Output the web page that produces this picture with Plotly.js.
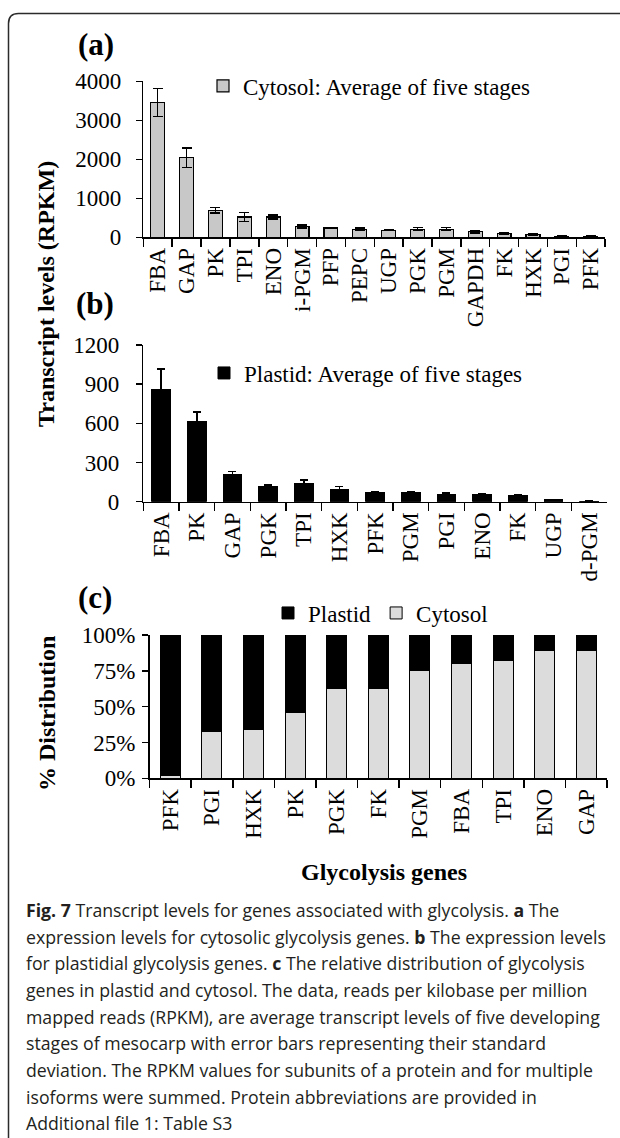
<!DOCTYPE html>
<html><head><meta charset="utf-8">
<script src="https://cdn.plot.ly/plotly-3.0.1.min.js"></script>
<style>html,body{margin:0;padding:0;background:#fff}#chart{width:620px;height:1138px}</style>
</head><body><div id="chart"></div>
<script>
// ---- data (a) cytosol ----
const cytoGenes = ['FBA','GAP','PK','TPI','ENO','i-PGM','PFP','PEPC','UGP','PGK','PGM','GAPDH','FK','HXK','PGI','PFK'];
const cytoMean  = [3460, 2040, 690, 520, 520, 280, 240, 210, 180, 210, 210, 140, 100, 70, 30, 30];
const cytoSD    = [360, 255, 70, 110, 55, 40, 15, 30, 5, 40, 40, 35, 15, 15, 8, 8];
// ---- data (b) plastid ----
const plastGenes = ['FBA','PK','GAP','PGK','TPI','HXK','PFK','PGM','PGI','ENO','FK','UGP','d-PGM'];
const plastMean  = [860, 612, 212, 120, 138, 97, 69, 68, 58, 55, 46, 15, 4];
const plastSD    = [155, 75, 18, 6, 30, 20, 8, 10, 8, 3, 10, 3, 1];
// ---- data (c) % distribution ----
const distGenes   = ['PFK','PGI','HXK','PK','PGK','FK','PGM','FBA','TPI','ENO','GAP'];
const distCytosol = [2, 32.5, 34, 46, 63, 63, 75, 80, 82, 89.5, 89.5];
const distPlastid = [98, 67.5, 66, 54, 37, 37, 25, 20, 18, 10.5, 10.5];
const pctTicks      = [0, 25, 50, 75, 100];
const pctTickLabels = ['0%', '25%', '50%', '75%', '100%'];
// ---- text ----
const captionLines = [
  '<b>Fig. 7</b> Transcript levels for genes associated with glycolysis. <b>a</b> The',
  'expression levels for cytosolic glycolysis genes. <b>b</b> The expression levels',
  'for plastidial glycolysis genes. <b>c</b> The relative distribution of glycolysis',
  'genes in plastid and cytosol. The data, reads per kilobase per million',
  'mapped reads (RPKM), are average transcript levels of five developing',
  'stages of mesocarp with error bars representing their standard',
  'deviation. The RPKM values for subunits of a protein and for multiple',
  'isoforms were summed. Protein abbreviations are provided in',
  'Additional file 1: Table S3'
];

const W = 620, H = 1138;
const fx = p => p / W, fy = p => 1 - p / H;
const SERIF = 'Liberation Serif, "Times New Roman", serif';
const SANS = '"Open Sans", "Noto Sans", sans-serif';

function xa(x0, x1, anchor) {
  return {domain:[fx(x0), fx(x1)], anchor, type:'category', showline:true, linecolor:'#000', linewidth:1.5,
    ticks:'outside', tickson:'boundaries', ticklen:8, tickwidth:1.5, tickcolor:'#000', tickangle:-90,
    tickfont:{family:SERIF, size:23, color:'#000'}, showgrid:false, zeroline:false, automargin:false, fixedrange:true};
}
function ya(top, bottom, anchor, range, dtick, standoff) {
  return {domain:[fy(bottom), fy(top)], anchor, range, dtick, tick0:0, showline:true, linecolor:'#000', linewidth:1.5,
    ticks:'outside', ticklen:6, tickwidth:1.5, tickcolor:'#000', tickfont:{family:SERIF, size:23, color:'#000'},
    showgrid:false, zeroline:false, automargin:false, fixedrange:true, ticklabelstandoff:standoff};
}

const traces = [
  {type:'bar', x:cytoGenes, y:cytoMean, xaxis:'x', yaxis:'y', legend:'legend', name:'Cytosol: Average of five stages',
   width:0.48, marker:{color:'#c8c8c8', line:{color:'#000', width:1.2}},
   error_y:{type:'data', array:cytoSD, visible:true, color:'#000', thickness:1.5, width:5}},
  {type:'bar', x:plastGenes, y:plastMean, xaxis:'x2', yaxis:'y2', legend:'legend2', name:'Plastid: Average of five stages',
   width:0.53, marker:{color:'#000', line:{color:'#000', width:1}},
   error_y:{type:'data', array:plastSD, visible:true, color:'#000', thickness:1.5, width:4}},
  {type:'bar', x:distGenes, y:distCytosol, xaxis:'x3', yaxis:'y3', legend:'legend3', name:'Cytosol',
   width:0.48, marker:{color:'#dcdcdc', line:{color:'#000', width:1}}},
  {type:'bar', x:distGenes, y:distPlastid, xaxis:'x3', yaxis:'y3', legend:'legend3', name:'Plastid',
   width:0.48, marker:{color:'#000', line:{color:'#000', width:1}}}
];

const legendFont = {family:SERIF, size:23, color:'#000'};
const ann = (text, x, y, opts) => Object.assign({text, x:fx(x), y:fy(y), xref:'paper', yref:'paper', showarrow:false,
  xanchor:'center', yanchor:'middle', font:{family:SERIF, size:23, color:'#000'}}, opts || {});

const annotations = [
  ann('<b>(a)</b>', 96, 45, {font:{family:SERIF, size:31, color:'#000'}}),
  ann('<b>(b)</b>', 95, 303, {font:{family:SERIF, size:31, color:'#000'}}),
  ann('<b>(c)</b>', 95, 597, {font:{family:SERIF, size:31, color:'#000'}}),
  ann('<b>Transcript levels (RPKM)</b>', 46, 294, {textangle:-90, font:{family:SERIF, size:24, color:'#000'}}),
  ann('<b>% Distribution</b>', 47, 714, {textangle:-90, font:{family:SERIF, size:24, color:'#000'}}),
  ann('<b>Glycolysis genes</b>', 384, 872, {font:{family:SERIF, size:24, color:'#000'}})
];
captionLines.forEach((t, i) => {
  annotations.push(ann(t, 24, 910 + i * 26.67, {xanchor:'left', font:{family:SANS, size:17.7, color:'#231f20'}}));
});

const layout = {
  width:W, height:H, margin:{l:0, r:0, t:0, b:0}, paper_bgcolor:'#fff', plot_bgcolor:'rgba(0,0,0,0)',
  barmode:'stack', showlegend:true,
  xaxis: xa(143.3, 605.2, 'y'),
  yaxis: ya(81.3, 237.3, 'x', [0, 4000], 1000, 10),
  xaxis2: xa(143.3, 607, 'y2'),
  yaxis2: ya(344.9, 501.7, 'x2', [0, 1200], 300, 12),
  xaxis3: xa(149.6, 607, 'y3'),
  yaxis3: Object.assign(ya(635, 778.3, 'x3', [0, 100], 25, 2), {tickmode:'array', tickvals:pctTicks, ticktext:pctTickLabels}),
  legend:  {x:fx(203), y:fy(86), xanchor:'left', yanchor:'middle', bgcolor:'rgba(0,0,0,0)', font:legendFont},
  legend2: {x:fx(204), y:fy(373), xanchor:'left', yanchor:'middle', bgcolor:'rgba(0,0,0,0)', font:legendFont},
  legend3: {x:fx(268), y:fy(613), xanchor:'left', yanchor:'middle', orientation:'h', traceorder:'reversed',
            bgcolor:'rgba(0,0,0,0)', font:legendFont},
  annotations,
  shapes: [{type:'path', xref:'paper', yref:'paper',
    path:`M ${fx(8.5)},${fy(1145)} L ${fx(8.5)},${fy(23.5)} Q ${fx(8.5)},${fy(13.5)} ${fx(18.5)},${fy(13.5)} L ${fx(640)},${fy(13.5)}`,
    line:{color:'#2b2b2b', width:1.5}}]
};

Plotly.newPlot('chart', traces, layout, {staticPlot:true, displayModeBar:false});
</script>
</body></html>
